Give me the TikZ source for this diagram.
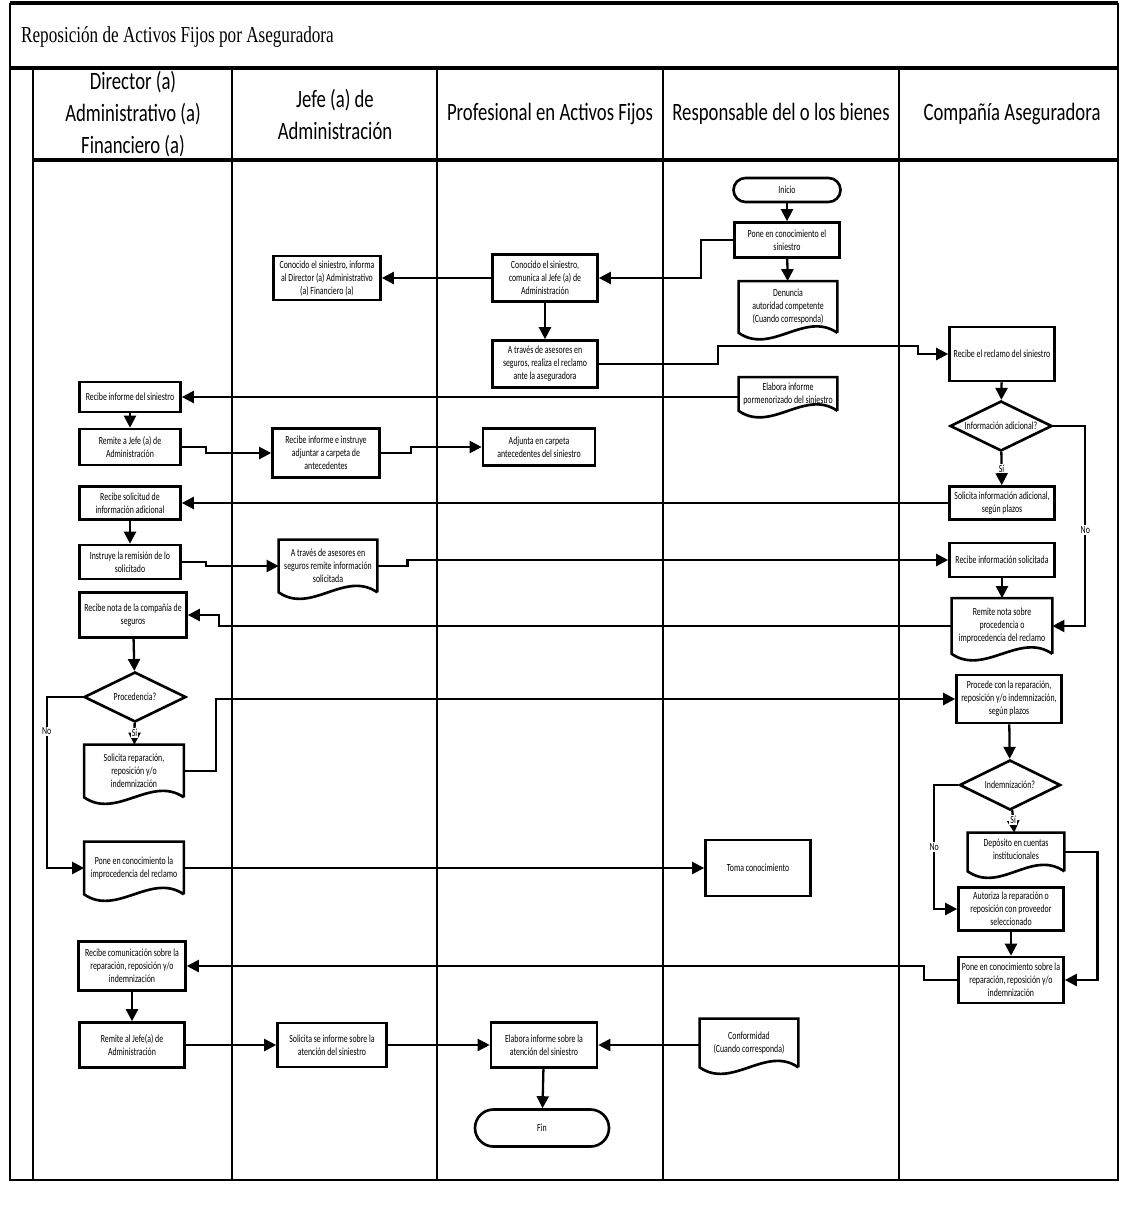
\documentclass[tikz,border=0pt]{standalone}
\usepackage{fontspec}
\setmainfont{Carlito}
\newfontfamily\boxfont[FakeStretch=0.72]{Carlito}
\newfontfamily\headfont[FakeStretch=0.75]{Carlito}
\newfontfamily\titlefont[FakeStretch=0.75]{Liberation Serif}
\usetikzlibrary{arrows.meta,shapes.geometric}

\tikzset{
    boxtext/.style={font=\boxfont\fontsize{6.2}{7.4}\selectfont, align=center, inner sep=1pt},
    sz/.style 2 args={minimum width=#1*0.02cm, minimum height=#2*0.02cm},
    procbox/.style={boxtext, draw, rectangle, line width=1.5pt},
    docbox/.style={boxtext, rectangle},
    termbox/.style={boxtext, draw, rectangle, line width=1.5pt},
    decbox/.style={boxtext, draw, diamond, aspect=2, inner sep=0pt, line width=1.5pt},
    headtext/.style={font=\headfont\fontsize{14.2}{18.2}\selectfont, align=center},
    lbl/.style={font=\boxfont\fontsize{6.2}{7.4}\selectfont, fill=white, inner sep=0.6pt},
    arr/.style={line width=1.3pt, -{Triangle[length=2.4mm,width=2.4mm]}},
    lane/.style={line width=1.1pt},
    boxline/.style={line width=1.5pt}
}

\begin{document}
\begin{tikzpicture}[x=0.02cm,y=-0.02cm]
        \useasboundingbox (0,0) rectangle (1121,1206);
        % Draw pool frame and lanes
        \draw[line width=2pt] (10,3) -- (1118,3);
        \draw[line width=2pt] (10,68) -- (1118,68);
        \draw[line width=2pt] (33,160) -- (1118,160);
        \draw[lane] (10,3) -- (10,1180) -- (1118,1180) -- (1118,3);
        \foreach \x in {33,232,437,663,899}
            \draw[lane] (\x,68) -- (\x,1180);
        \node[anchor=west, font=\titlefont\fontsize{13}{15}\selectfont] (title) at (15,37) {Reposición de Activos Fijos por Aseguradora};
        % Lane headers
        \node[headtext] (hdir) at (133,114) {Director (a)\\Administrativo (a)\\Financiero (a)};
        \node[headtext] (hjefe) at (335,114) {Jefe (a) de\\Administración};
        \node[headtext] (hprof) at (550,114) {Profesional en Activos Fijos};
        \node[headtext] (hresp) at (781,114) {Responsable del o los bienes};
        \node[headtext] (hcomp) at (1012,114) {Compañía Aseguradora};

        % Responsable del o los bienes
        \node[termbox, sz={107}{24}, rounded corners=0.24cm] (inicio) at (787,190) {Inicio};
        \node[procbox, sz={105}{35}] (ponesin) at (787,240) {Pone en conocimiento el\\siniestro};
        \node[docbox, sz={98}{51}] (denuncia) at (788,307) {Denuncia\\autoridad competente\\(Cuando corresponda)};
        \node[docbox, sz={98}{33}] (pormenor) at (788,394) {Elabora informe\\pormenorizado del siniestro};
        \node[procbox, sz={105}{56}] (toma) at (758,868) {Toma conocimiento};
        \node[docbox, sz={98}{48}] (conformidad) at (749,1043) {Conformidad\\(Cuando corresponda)};

        % Profesional en Activos Fijos
        \node[procbox, sz={105}{47}] (conocidoprof) at (545,278) {Conocido el siniestro,\\comunica al Jefe (a) de\\Administración};
        \node[procbox, sz={105}{47}] (reclamo) at (545,364) {A través de asesores en\\seguros, realiza el reclamo\\ante la aseguradora};
        \node[procbox, sz={112}{37}] (adjunta) at (539,447) {Adjunta en carpeta\\antecedentes del siniestro};
        \node[procbox, sz={106}{45}] (informesobre) at (544,1045) {Elabora informe sobre la\\atención del siniestro};
        \node[termbox, sz={134}{37}, rounded corners=0.37cm] (fin) at (542,1128) {Fin};

        % Jefe (a) de Administracion
        \node[procbox, sz={107}{44}] (conocidojefe) at (327,278) {Conocido el siniestro, informa\\al Director (a) Administrativo\\(a) Financiero (a)};
        \node[procbox, sz={107}{49}] (instruye) at (326,453) {Recibe informe e instruye\\adjuntar a carpeta de\\antecedentes};
        \node[docbox, sz={98}{52}] (remiteinfo) at (328,566) {A través de asesores en\\seguros remite información\\solicitada};
        \node[procbox, sz={109}{44}] (solicitainf) at (332,1045) {Solicita se informe sobre la\\atención del siniestro};

        % Director (a) Administrativo (a) Financiero (a)
        \node[procbox, sz={101}{30}] (recibeinf) at (130,397) {Recibe informe del siniestro};
        \node[procbox, sz={101}{36}] (remitejefe) at (130,447) {Remite a Jefe (a) de\\Administración};
        \node[procbox, sz={101}{33}] (recibesol) at (130,503) {Recibe solicitud de\\información adicional};
        \node[procbox, sz={101}{34}] (instruyerem) at (130,562) {Instruye la remisión de lo\\solicitado};
        \node[procbox, sz={107}{45}] (recibenota) at (133,615) {Recibe nota de la compañía de\\seguros};
        \node[decbox, sz={102}{50}] (procedencia) at (135,697) {Procedencia?};
        \node[docbox, sz={99}{52}] (solrep) at (134,771) {Solicita reparación,\\reposición y/o\\indemnización};
        \node[docbox, sz={99}{52}] (improcedencia) at (134,868) {Pone en conocimiento la\\improcedencia del reclamo};
        \node[procbox, sz={107}{49}] (recibecom) at (132,966) {Recibe comunicación sobre la\\reparación, reposición y/o\\indemnización};
        \node[procbox, sz={105}{45}] (remitejefe2) at (132,1045) {Remite al Jefe(a) de\\Administración};

        % Compania Aseguradora
        \node[procbox, sz={105}{54}] (recibereclamo) at (1002,354) {Recibe el reclamo del siniestro};
        \node[decbox, sz={102}{50}] (infoadic) at (1001,426) {Información adicional?};
        \node[procbox, sz={105}{33}] (solinfo) at (1002,503) {Solicita información adicional,\\según plazos};
        \node[procbox, sz={105}{34}] (recinfo) at (1002,560) {Recibe información solicitada};
        \node[docbox, sz={100}{55}] (remitenota) at (1002,626) {Remite nota sobre\\procedencia o\\improcedencia del reclamo};
        \node[procbox, sz={105}{48}] (procede) at (1009,699) {Procede con la reparación,\\reposición y/o indemnización,\\según plazos};
        \node[decbox, sz={101}{50}] (indemn) at (1010,785) {Indemnización?};
        \node[docbox, sz={96}{38}, text depth=0.12cm] (deposito) at (1016,852) {Depósito en cuentas\\institucionales};
        \node[procbox, sz={105}{43}] (autoriza) at (1011,909) {Autoriza la reparación o\\reposición con proveedor\\seleccionado};
        \node[procbox, sz={105}{46}] (ponesobre) at (1011,980) {Pone en conocimiento sobre la\\reparación, reposición y/o\\indemnización};

        % Document outlines with wavy bottom
        \foreach \n in {denuncia,pormenor,conformidad,remiteinfo,solrep,improcedencia,remitenota,deposito}
            \draw[boxline] (\n.south east) -- (\n.north east) -- (\n.north west) -- (\n.south west)
                .. controls +(0.65cm,-0.45cm) and +(-0.65cm,0.45cm) .. (\n.south east);

        % Connectors
        \draw[arr] (inicio) -- (ponesin);
        \draw[arr] (ponesin) -- (denuncia);
        \draw[arr] (ponesin.west) -- ++(-32,0) |- (conocidoprof.east);
        \draw[arr] (conocidoprof.west) -- (conocidojefe.east);
        \draw[arr] (conocidoprof) -- (reclamo);
        \draw[arr] (reclamo.east) -- ++(119,0) -- ++(0,-18) -- ++(200,0) |- (recibereclamo.west);
        \draw[arr] (pormenor.west |- recibeinf.east) -- (recibeinf.east);
        \draw[arr] (recibeinf) -- (remitejefe);
        \draw[arr] (remitejefe.east) -- ++(24,0) |- (instruye.west);
        \draw[arr] (instruye.east) -- ++(30,0) |- (adjunta.west);
        \draw[arr] (recibereclamo) -- (infoadic);
        \draw[arr] (infoadic) -- node[lbl] {Sí} (solinfo);
        \draw[arr] (infoadic.east) -- ++(32,0) |- node[lbl, pos=0.26] {No} (remitenota.east);
        \draw[arr] (solinfo.west) -- (recibesol.east);
        \draw[arr] (recibesol) -- (instruyerem);
        \draw[arr] (instruyerem.east) -- ++(24,0) |- (remiteinfo.west);
        \draw[arr] (remiteinfo.east) -- ++(30,0) |- (recinfo.west);
        \draw[arr] (recinfo) -- (remitenota);
        \draw[arr] (remitenota.west) -| ([xshift=0.62cm]recibenota.east) -- (recibenota.east);
        \draw[arr] (recibenota) -- (procedencia);
        \draw[arr] (procedencia) -- node[lbl, pos=0.45] {Sí} (solrep);
        \draw[arr] (procedencia.west) -- ++(-36,0) |- node[lbl, pos=0.1] {No} (improcedencia.west);
        \draw[arr] (solrep.east) -- ++(32,0) |- (procede.west);
        \draw[arr] (improcedencia.east) -- (toma.west);
        \draw[arr] (procede) -- (indemn);
        \draw[arr] (indemn) -- node[lbl, pos=0.45] {Sí} (deposito);
        \draw[arr] (indemn.west) -- ++(-24,0) |- node[lbl, pos=0.25] {No} (autoriza.west);
        \draw[arr] (deposito.east) -- ++(33,0) |- (ponesobre.east);
        \draw[arr] (autoriza) -- (ponesobre);
        \draw[arr] (ponesobre.west) -- ++(-33,0) |- (recibecom.east);
        \draw[arr] (recibecom) -- (remitejefe2);
        \draw[arr] (remitejefe2.east) -- (solicitainf.west);
        \draw[arr] (solicitainf.east) -- (informesobre.west);
        \draw[arr] (conformidad.west |- informesobre.east) -- (informesobre.east);
        \draw[arr] (informesobre) -- (fin);
    \end{tikzpicture}
\end{document}
